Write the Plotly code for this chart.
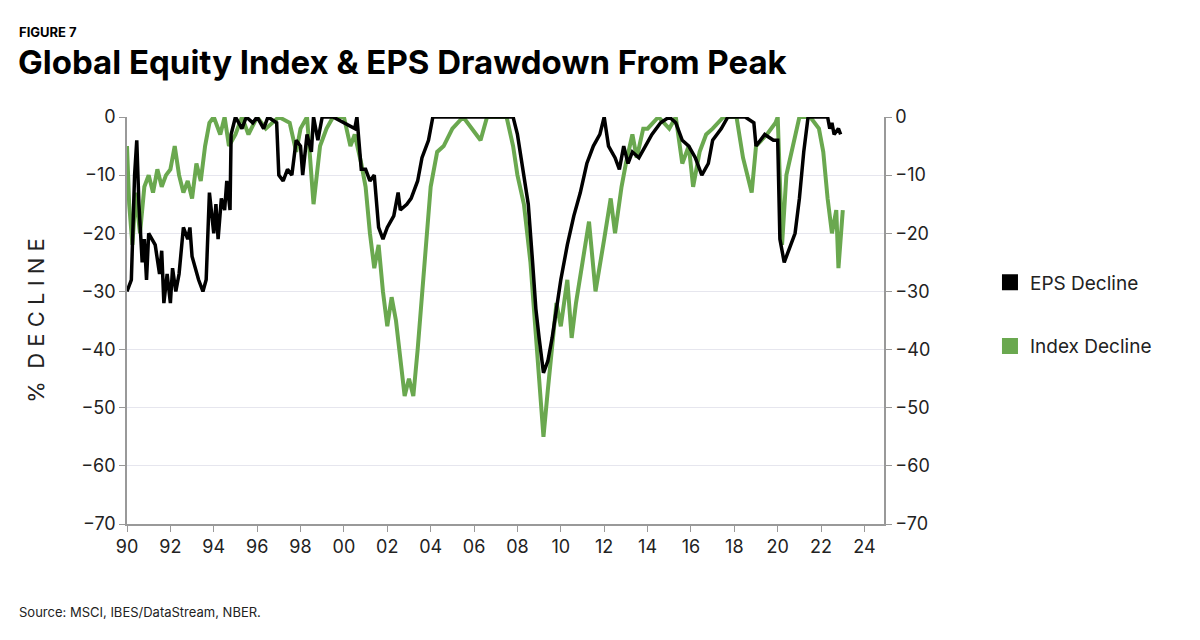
import plotly.graph_objects as go

eps_x = [1990.0,1990.2,1990.35,1990.45,1990.55,1990.7,1990.8,1990.9,1991.0,1991.3,1991.5,1991.6,1991.7,1991.85,1992.0,1992.1,1992.25,1992.4,1992.6,1992.8,1992.9,1993.0,1993.3,1993.5,1993.65,1993.8,1994.0,1994.1,1994.2,1994.35,1994.5,1994.6,1994.75,1994.8,1995.0,1995.3,1995.5,1995.8,1996.0,1996.3,1996.5,1996.9,1997.0,1997.2,1997.4,1997.6,1997.8,1998.0,1998.1,1998.3,1998.5,1998.6,1998.8,1999.0,1999.5,2000.0,2000.5,2000.6,2000.8,2001.0,2001.2,2001.4,2001.6,2001.8,2002.0,2002.3,2002.5,2002.6,2002.9,2003.1,2003.4,2003.6,2003.9,2004.1,2005,2006,2007,2007.8,2008.0,2008.2,2008.5,2008.7,2008.85,2009.0,2009.2,2009.4,2009.6,2009.8,2010.0,2010.3,2010.6,2010.9,2011.2,2011.5,2011.8,2012.0,2012.2,2012.5,2012.7,2012.9,2013.1,2013.3,2013.6,2013.9,2014.2,2014.6,2015.0,2015.3,2015.6,2015.9,2016.2,2016.5,2016.8,2017.0,2017.4,2017.7,2018.5,2018.9,2019.0,2019.4,2019.8,2020.0,2020.1,2020.3,2020.5,2020.8,2021.0,2021.2,2021.4,2022.0,2022.3,2022.4,2022.5,2022.6,2022.8,2022.9]
eps_y = [-30,-28,-10,-4,-15,-25,-21,-28,-20,-22,-27,-23,-32,-27,-32,-26,-30,-27,-19,-21,-19,-24,-28,-30,-28,-13,-20,-15,-21,-14,-16,-11,-16,-3,0,-2,0,-1,0,-2,0,-1,-10,-11,-9,-10,-4,-5,-10,-3,-6,0,-4,0,0,-1,-2,0,-9,-9,-11,-10,-19,-21,-19,-17,-13,-16,-15,-14,-11,-7,-4,0,0,0,0,0,-3,-8,-15,-25,-33,-38,-44,-42,-38,-33,-28,-22,-17,-13,-8,-5,-3,0,-5,-7,-9,-5,-8,-6,-7,-5,-3,-1,0,-1,-4,-5,-7,-10,-8,-4,-2,0,0,-1,-5,-3,-4,-4,-21,-25,-23,-20,-14,-6,0,0,0,-2,-1,-3,-2,-3]

idx_x = [1990.0,1990.1,1990.25,1990.4,1990.6,1990.8,1991.0,1991.2,1991.4,1991.6,1991.8,1992.0,1992.2,1992.4,1992.6,1992.8,1993.0,1993.2,1993.4,1993.6,1993.8,1994.0,1994.3,1994.5,1994.7,1995.0,1995.3,1995.6,1996,1996.4,1997,1997.5,1997.8,1998.0,1998.3,1998.6,1998.9,1999.2,1999.5,2000.0,2000.3,2000.5,2000.8,2001.0,2001.2,2001.4,2001.6,2001.8,2002.0,2002.2,2002.4,2002.6,2002.8,2003.0,2003.2,2003.4,2003.6,2003.8,2004.0,2004.3,2004.6,2005.0,2005.5,2006.3,2006.6,2007.5,2007.8,2008.0,2008.3,2008.6,2008.8,2009.0,2009.2,2009.4,2009.6,2009.8,2010.0,2010.3,2010.5,2010.7,2011.0,2011.3,2011.6,2011.8,2012.0,2012.3,2012.5,2012.8,2013.0,2013.3,2013.5,2013.8,2014.0,2014.5,2015.0,2015.3,2015.6,2015.9,2016.1,2016.4,2016.7,2017.0,2017.5,2018.1,2018.4,2018.8,2019.0,2019.5,2019.9,2020.0,2020.2,2020.4,2020.7,2021.0,2021.5,2021.9,2022.1,2022.3,2022.5,2022.7,2022.8,2022.9,2023.0]
idx_y = [-5,-15,-22,-13,-20,-12,-10,-13,-9,-12,-10,-9,-5,-10,-13,-11,-14,-8,-11,-5,-1,0,-3,0,-5,-3,0,-3,0,-2,0,-1,-6,-2,0,-15,-5,-2,0,0,-5,-3,-8,-12,-20,-26,-22,-30,-36,-31,-35,-42,-48,-45,-48,-40,-30,-20,-12,-6,-5,-2,0,-4,0,0,-5,-10,-15,-25,-35,-47,-55,-47,-40,-32,-36,-28,-38,-32,-25,-18,-30,-25,-21,-14,-20,-12,-8,-3,-7,-2,-2,0,-2,0,-8,-5,-12,-6,-3,-2,0,0,-7,-13,-5,-3,-1,0,-22,-10,-5,0,0,-2,-6,-14,-20,-16,-26,-20,-16]

GREEN = "#6aa84f"
FONT = "Inter"
fig = go.Figure()
fig.add_trace(go.Scatter(x=idx_x, y=idx_y, mode="lines", line=dict(color=GREEN, width=4), showlegend=False))
fig.add_trace(go.Scatter(x=eps_x, y=eps_y, mode="lines", line=dict(color="black", width=3.5), showlegend=False))
fig.add_trace(go.Scatter(x=[None], y=[None], mode="markers", name="EPS Decline", legendgroup="a",
                         marker=dict(symbol="square", size=26, color="black")))
fig.add_trace(go.Scatter(x=[None], y=[None], mode="markers", name="Index Decline", legendgroup="b",
                         marker=dict(symbol="square", size=26, color=GREEN)))
fig.add_trace(go.Scatter(x=[2000], y=[None], yaxis="y2", showlegend=False, hoverinfo="skip"))

tickv = [-70,-60,-50,-40,-30,-20,-10,0]
fig.update_layout(
    width=1200, height=640, paper_bgcolor="white", plot_bgcolor="white",
    margin=dict(l=119, r=324, t=109, b=124),
    font=dict(family=FONT, size=18, color="#222"),
    xaxis=dict(range=[1990, 2024.9], tickvals=list(range(1990, 2025, 2)),
               ticktext=[f"{y%100:02d}" for y in range(1990, 2025, 2)],
               showgrid=False, showline=True, linecolor="#999", linewidth=1.5,
               ticks="outside", ticklen=6, tickcolor="#999", zeroline=False),
    yaxis=dict(range=[-70, 0], tickvals=tickv, showgrid=True, gridcolor="#e6e6ee",
               showline=True, linecolor="#999", linewidth=1.5, zeroline=False,
               ticks="outside", ticklen=6, tickcolor="#999",
               title=dict(text="%  D E C L I N E", standoff=30)),
    yaxis2=dict(range=[-70, 0], tickvals=tickv, overlaying="y", side="right",
                showgrid=False, showline=True, linecolor="#999", linewidth=1.5,
                ticks="outside", ticklen=6, tickcolor="#999", zeroline=False),
    legend=dict(x=1.14, y=0.64, xanchor="left", yanchor="top", tracegroupgap=36,
                font=dict(size=19, color="#222")),
)
fig.add_annotation(text="<b>FIGURE 7</b>", xref="paper", yref="paper", x=-0.145, y=1.21,
                   xanchor="left", yanchor="middle", showarrow=False, font=dict(size=13, color="black"))
fig.add_annotation(text="<b>Global Equity Index & EPS Drawdown From Peak</b>", xref="paper", yref="paper",
                   x=-0.147, y=1.135, xanchor="left", yanchor="middle", showarrow=False,
                   font=dict(size=33, color="black"))
fig.add_annotation(text="Source: MSCI, IBES/DataStream, NBER.", xref="paper", yref="paper",
                   x=-0.145, y=-0.215, xanchor="left", yanchor="middle", showarrow=False,
                   font=dict(size=13, color="#222"))
fig.write_html("out.html")
